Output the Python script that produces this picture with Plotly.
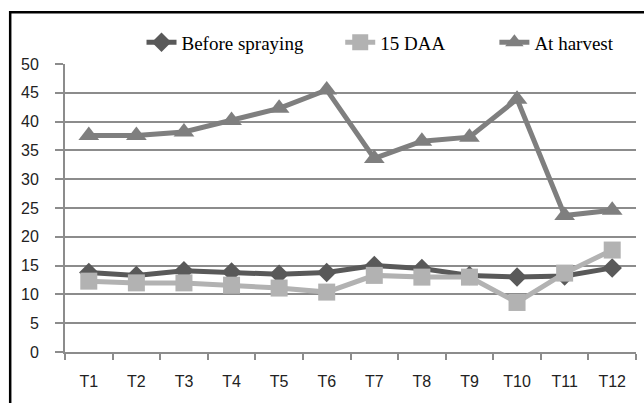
import plotly.graph_objects as go

categories = ["T1", "T2", "T3", "T4", "T5", "T6", "T7", "T8", "T9", "T10", "T11", "T12"]
before_spraying = [13.8, 13.3, 14.1, 13.9, 13.5, 13.8, 15.0, 14.5, 13.3, 13.0, 13.2, 14.6]
daa_15 = [12.3, 12.0, 12.0, 11.6, 11.1, 10.4, 13.3, 13.0, 13.0, 8.6, 13.7, 17.7]
at_harvest = [37.6, 37.6, 38.2, 40.2, 42.3, 45.5, 33.6, 36.6, 37.3, 43.9, 23.7, 24.6]
y_ticks = [0, 5, 10, 15, 20, 25, 30, 35, 40, 45, 50]

c_before = "#595959"
c_daa = "#b2b2b2"
c_harv = "#7f7f7f"
grid = "#8c8c8c"

fig = go.Figure()
fig.add_trace(go.Scatter(x=categories, y=before_spraying, name="Before spraying",
                         mode="lines+markers", legend="legend",
                         line=dict(color=c_before, width=5),
                         marker=dict(symbol="diamond", size=15, color=c_before)))
fig.add_trace(go.Scatter(x=categories, y=daa_15, name="15 DAA",
                         mode="lines+markers", legend="legend2",
                         line=dict(color=c_daa, width=5),
                         marker=dict(symbol="square", size=17, color=c_daa)))
fig.add_trace(go.Scatter(x=categories, y=at_harvest, name="At harvest",
                         mode="lines+markers", legend="legend3",
                         line=dict(color=c_harv, width=5),
                         marker=dict(symbol="triangle-up", size=18, color=c_harv)))

leg_font = dict(family="Liberation Serif, Times New Roman, serif", size=19, color="#000")
leg_common = dict(orientation="h", yanchor="middle", y=1.075, xanchor="left",
                  font=leg_font, bgcolor="rgba(0,0,0,0)", borderwidth=0)

tick_font = dict(family="Liberation Sans, Arial, sans-serif", size=16, color="#222")

fig.update_layout(
    width=644, height=403,
    margin=dict(l=65, r=8, t=64, b=51),
    paper_bgcolor="white", plot_bgcolor="white",
    showlegend=True,
    legend=dict(**leg_common, x=0.134),
    legend2=dict(**leg_common, x=0.482),
    legend3=dict(**leg_common, x=0.752),
    xaxis=dict(type="category", range=[-0.5, 11.5], showgrid=False,
               showline=True, linecolor=grid, linewidth=2,
               ticks="outside", tickson="boundaries", ticklen=6, tickcolor=grid, tickwidth=2,
               tickfont=tick_font, ticklabelstandoff=14),
    yaxis=dict(range=[0, 50], tickvals=y_ticks, showgrid=True, gridcolor=grid, gridwidth=2,
               showline=True, linecolor=grid, linewidth=2, zeroline=False,
               ticks="outside", ticklen=8, tickcolor=grid, tickwidth=2,
               tickfont=tick_font, ticklabelstandoff=13),
    shapes=[dict(type="rect", xref="paper", yref="paper",
                 x0=-0.096, x1=1.2, y0=-0.5, y1=1.18,
                 line=dict(color="black", width=2.5), fillcolor="rgba(0,0,0,0)", layer="below")],
)

fig.write_html("out.html")
